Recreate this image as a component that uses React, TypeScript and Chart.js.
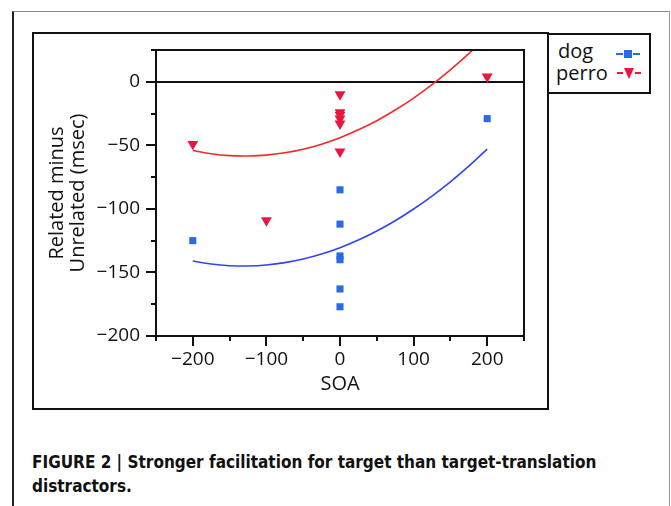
import React, { useEffect, useRef } from 'react';
import { Chart, registerables } from 'chart.js';

Chart.register(...registerables);

// ---- data ----
const seriesNames = ['dog', 'perro'];
const dogX = [-200, 0, 0, 0, 0, 0, 0, 200];
const dogY = [-125, -85, -112, -137, -140, -163, -177, -29];
const perroX = [-200, -100, 0, 0, 0, 0, 0, 0, 200];
const perroY = [-49, -109, -10, -24, -26, -29, -33, -55, 4];

// fitted curves
const fitX = [-200, -175, -150, -125, -100, -75, -50, -25, 0, 25, 50, 75, 100, 125, 150, 175, 200];
const dogFitY = [-141, -143.4, -144.7, -144.9, -144.1, -142.3, -139.4, -135.5, -130.5, -124.5, -117.4, -109.3, -100.1, -89.9, -78.7, -66.4, -53];
const perroFitY = [-54, -56.6, -58.1, -58.4, -57.7, -55.9, -53.1, -49.1, -44, -37.8, -30.6, -22.2, -12.8, -2.2, 9.4, 22.1, 35.9];

const xMajorTicks = [-200, -100, 0, 100, 200];
const xMinorTicks = [-250, -150, -50, 50, 150, 250];
const yMajorTicks = [0, -50, -100, -150, -200];
const yMinorTicks = [25, -25, -75, -125, -175];
const xRange = [-250, 250];
const yRange = [-200, 25];

const xTitle = 'SOA';
const yTitle = ['Related minus', 'Unrelated (msec)'];
const captionLines = ['FIGURE 2 | Stronger facilitation for target than target-translation', 'distractors.'];

const DOG_PT = '#2a6ae6';
const DOG_LINE = '#3442f0';
const PERRO_PT = '#e8173f';
const PERRO_LINE = '#f22a2a';
const FONT = "'Open Sans', 'DejaVu Sans', sans-serif";

const fmt = (v: number) => (v < 0 ? '\u2212' + Math.abs(v) : String(v));

const framePlugin = {
  id: 'frame',
  beforeDatasetsDraw(chart: any) {
    const { ctx, chartArea, scales } = chart;
    const y0 = Math.round(scales.y.getPixelForValue(0));
    ctx.save();
    ctx.strokeStyle = '#111';
    ctx.lineWidth = 2;
    ctx.beginPath();
    ctx.moveTo(chartArea.left, y0);
    ctx.lineTo(chartArea.right, y0);
    ctx.stroke();
    ctx.restore();
  },
  afterDraw(chart: any) {
    const { ctx, chartArea, scales } = chart;
    const { left, right, top, bottom } = chartArea;
    ctx.save();
    ctx.strokeStyle = '#111';
    ctx.lineWidth = 2;
    ctx.strokeRect(left, top, right - left, bottom - top);
    ctx.beginPath();
    xMajorTicks.forEach((v) => {
      const p = Math.round(scales.x.getPixelForValue(v));
      ctx.moveTo(p, bottom);
      ctx.lineTo(p, bottom + 10);
    });
    xMinorTicks.forEach((v) => {
      const p = Math.round(scales.x.getPixelForValue(v));
      ctx.moveTo(p, bottom);
      ctx.lineTo(p, bottom + 5);
    });
    yMajorTicks.forEach((v) => {
      const p = Math.round(scales.y.getPixelForValue(v));
      ctx.moveTo(left, p);
      ctx.lineTo(left - 10, p);
    });
    yMinorTicks.forEach((v) => {
      const p = Math.round(scales.y.getPixelForValue(v));
      ctx.moveTo(left, p);
      ctx.lineTo(left - 5, p);
    });
    ctx.stroke();
    ctx.restore();
  },
};

function App() {
  const ref = useRef<HTMLCanvasElement | null>(null);

  useEffect(() => {
    if (!ref.current) return;
    const chart = new Chart(ref.current, {
      type: 'scatter',
      data: {
        datasets: [
          {
            label: seriesNames[0],
            data: dogX.map((x, i) => ({ x, y: dogY[i] })),
            pointStyle: 'rect',
            pointRadius: 5,
            backgroundColor: DOG_PT,
            borderColor: DOG_PT,
            borderWidth: 0,
          },
          {
            label: seriesNames[1],
            data: perroX.map((x, i) => ({ x, y: perroY[i] })),
            pointStyle: 'triangle',
            rotation: 180,
            pointRadius: 6.3,
            backgroundColor: PERRO_PT,
            borderColor: PERRO_PT,
            borderWidth: 0,
          },
          {
            type: 'line',
            label: seriesNames[0] + ' fit',
            data: fitX.map((x, i) => ({ x, y: dogFitY[i] })),
            borderColor: DOG_LINE,
            borderWidth: 1.6,
            pointRadius: 0,
            tension: 0.4,
            fill: false,
          } as any,
          {
            type: 'line',
            label: seriesNames[1] + ' fit',
            data: fitX.map((x, i) => ({ x, y: perroFitY[i] })),
            borderColor: PERRO_LINE,
            borderWidth: 1.6,
            pointRadius: 0,
            tension: 0.4,
            fill: false,
          } as any,
        ],
      },
      options: {
        animation: false,
        responsive: false,
        devicePixelRatio: 1,
        layout: { padding: { left: 0, top: 17, right: 24, bottom: 0 } },
        plugins: { legend: { display: false }, tooltip: { enabled: false } },
        scales: {
          x: {
            type: 'linear',
            min: xRange[0],
            max: xRange[1],
            grid: { display: false, drawTicks: false },
            border: { display: false },
            afterBuildTicks: (s: any) => {
              s.ticks = xMajorTicks.map((v) => ({ value: v }));
            },
            afterFit: (s: any) => {
              s.height = 73;
              s.paddingLeft = 0;
              s.paddingRight = 0;
            },
            ticks: {
              autoSkip: false,
              maxRotation: 0,
              padding: 12,
              color: '#111',
              font: { family: FONT, size: 19 },
              callback: (v: any) => fmt(Number(v)),
            },
            title: {
              display: true,
              text: xTitle,
              color: '#111',
              font: { family: FONT, size: 20 },
              padding: { top: 0, bottom: 13 },
            },
          },
          y: {
            type: 'linear',
            min: yRange[0],
            max: yRange[1],
            grid: { display: false, drawTicks: false },
            border: { display: false },
            afterBuildTicks: (s: any) => {
              s.ticks = yMajorTicks.map((v) => ({ value: v }));
            },
            afterFit: (s: any) => {
              s.width = 123;
              s.paddingTop = 0;
              s.paddingBottom = 0;
            },
            ticks: {
              autoSkip: false,
              padding: 16,
              color: '#111',
              font: { family: FONT, size: 19 },
              callback: (v: any) => fmt(Number(v)),
            },
            title: {
              display: true,
              text: yTitle,
              color: '#111',
              font: { family: FONT, size: 20, lineHeight: 1.08 },
              padding: { top: 13, bottom: 0 },
            },
          },
        },
      },
      plugins: [framePlugin],
    });
    return () => chart.destroy();
  }, []);

  const abs = (s: React.CSSProperties): React.CSSProperties => ({ position: 'absolute', boxSizing: 'border-box', ...s });

  return (
    <div>
      {/* outer frame */}
      <div style={abs({ left: 12, top: 11, width: 658, height: 495, borderTop: '1px solid #888', borderLeft: '2px solid #222', borderRight: '1px solid #999' })} />
      {/* chart box */}
      <div style={abs({ left: 32, top: 32, width: 517, height: 378, border: '2px solid #111' })} />
      <canvas ref={ref} width={515} height={376} style={{ position: 'absolute', left: 33, top: 33, width: 515, height: 376, display: 'block' }} />
      {/* legend */}
      <div style={abs({ left: 547, top: 33, width: 104, height: 61, border: '2px solid #111', background: '#fff' })} />
      <div style={abs({ left: 558, top: 40.5, fontFamily: FONT, fontSize: 20, lineHeight: '20px', color: '#111' })}>{seriesNames[0]}</div>
      <div style={abs({ left: 556, top: 63, fontFamily: FONT, fontSize: 20, lineHeight: '20px', color: '#111' })}>{seriesNames[1]}</div>
      {/* dog marker -■- */}
      <div style={abs({ left: 616, top: 53, width: 7, height: 2, background: DOG_PT })} />
      <div style={abs({ left: 624, top: 50, width: 8, height: 8, background: DOG_PT })} />
      <div style={abs({ left: 633, top: 53, width: 7, height: 2, background: DOG_PT })} />
      {/* perro marker -▼- */}
      <div style={abs({ left: 617, top: 72, width: 6, height: 2, background: PERRO_PT })} />
      <div style={abs({ left: 623.5, top: 68, width: 0, height: 0, borderLeft: '5.5px solid transparent', borderRight: '5.5px solid transparent', borderTop: '11px solid ' + PERRO_PT })} />
      <div style={abs({ left: 635, top: 72, width: 6, height: 2, background: PERRO_PT })} />
      {/* caption */}
      <div style={abs({ left: 32, top: 449.5, fontFamily: "'Liberation Sans Narrow', 'Arial Narrow', 'DejaVu Sans Condensed', sans-serif", fontWeight: 'bold', fontSize: 17, lineHeight: '24.7px', color: '#111', whiteSpace: 'nowrap' })}>
        {captionLines[0]}
        <br />
        {captionLines[1]}
      </div>
    </div>
  );
}

export default App;
